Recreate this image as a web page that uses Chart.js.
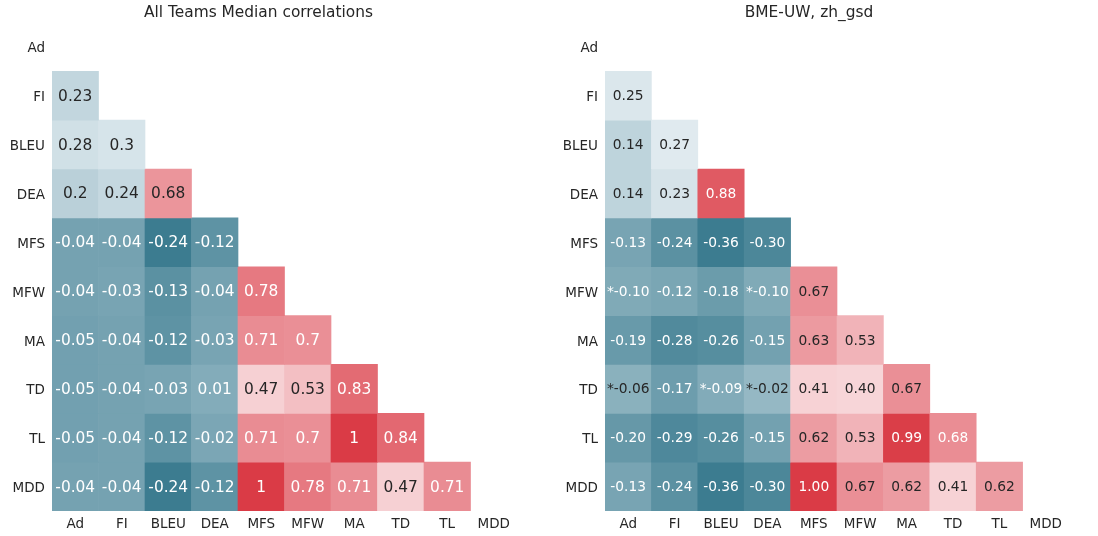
<!DOCTYPE html>
<html>
<head>
<meta charset="utf-8">
<script src="https://cdn.jsdelivr.net/npm/chart.js@4/dist/chart.umd.min.js"></script>
<style>
  body { margin: 0; background: #fff; }
  .box { position: absolute; top: 0; width: 549px; height: 536px; }
</style>
</head>
<body>
<div class="box" style="left:0"><canvas id="left"></canvas></div>
<div class="box" style="left:549px"><canvas id="right"></canvas></div>
<script>
// metric names, same order on both axes
const metrics = ['Ad', 'FI', 'BLEU', 'DEA', 'MFS', 'MFW', 'MA', 'TD', 'TL', 'MDD'];

// lower triangle, one row per metric (row 0 "Ad" is empty)
const medianRows = [
  [],
  [0.23],
  [0.28, 0.3],
  [0.2, 0.24, 0.68],
  [-0.04, -0.04, -0.24, -0.12],
  [-0.04, -0.03, -0.13, -0.04, 0.78],
  [-0.05, -0.04, -0.12, -0.03, 0.71, 0.7],
  [-0.05, -0.04, -0.03, 0.01, 0.47, 0.53, 0.83],
  [-0.05, -0.04, -0.12, -0.02, 0.71, 0.7, 1, 0.84],
  [-0.04, -0.04, -0.24, -0.12, 1, 0.78, 0.71, 0.47, 0.71]
];

const teamRows = [
  [],
  [0.25],
  [0.14, 0.27],
  [0.14, 0.23, 0.88],
  [-0.13, -0.24, -0.36, -0.30],
  [-0.10, -0.12, -0.18, -0.10, 0.67],
  [-0.19, -0.28, -0.26, -0.15, 0.63, 0.53],
  [-0.06, -0.17, -0.09, -0.02, 0.41, 0.40, 0.67],
  [-0.20, -0.29, -0.26, -0.15, 0.62, 0.53, 0.99, 0.68],
  [-0.13, -0.24, -0.36, -0.30, 1.00, 0.67, 0.62, 0.41, 0.62]
];
// non significant cells get a "*" in front
const teamStars = [[5, 0], [5, 3], [7, 0], [7, 2], [7, 3]];

const FONT = 'DejaVu Sans';
const TXT = '#262626';

// seaborn diverging_palette(220, 10) roughly
const blue = [60, 124, 144], blueLight = [237, 243, 247];
const red = [218, 59, 70], redLight = [251, 233, 235];

function mix(a, b, f) {
  return a.map((v, k) => Math.round(v + (b[k] - v) * f));
}
function cellColor(t) {
  const c = t < 0.5 ? mix(blue, blueLight, t / 0.5) : mix(redLight, red, (t - 0.5) / 0.5);
  return 'rgb(' + c.join(',') + ')';
}

function makeChart(id, title, rows, opts) {
  const all = rows.flat();
  const vmin = Math.min(...all), vmax = Math.max(...all);
  const norm = v => (v - vmin) / (vmax - vmin);

  const datasets = rows.map((row, i) => ({
    data: metrics.map((m, j) => j < row.length ? [i, i + 1] : null),
    backgroundColor: metrics.map((m, j) => j < row.length ? cellColor(norm(row[j])) : 'transparent'),
    borderWidth: 0,
    barPercentage: 1,
    categoryPercentage: 1,
    grouped: false
  }));

  const labels = {
    id: 'cellText',
    afterDatasetsDraw(chart) {
      const ctx = chart.ctx, xs = chart.scales.x, ys = chart.scales.y;
      ctx.save();
      ctx.font = opts.annotSize + 'px "' + FONT + '"';
      ctx.textAlign = 'center';
      ctx.textBaseline = 'middle';
      rows.forEach((row, i) => {
        row.forEach((v, j) => {
          const t = norm(v);
          let s = opts.fmt(v);
          if (opts.stars && opts.stars.some(p => p[0] === i && p[1] === j)) s = '*' + s;
          ctx.fillStyle = (t < 0.21 || t > 0.7578) ? '#ffffff' : TXT;
          ctx.fillText(s, xs.getPixelForValue(j), ys.getPixelForValue(i + 0.5) + 1);
        });
      });
      ctx.restore();
    }
  };

  return new Chart(document.getElementById(id), {
    type: 'bar',
    data: { labels: metrics, datasets: datasets },
    plugins: [labels],
    options: {
      responsive: true,
      maintainAspectRatio: false,
      animation: false,
      layout: { padding: { left: 0, right: opts.padRight, top: 0, bottom: 0 } },
      plugins: {
        legend: { display: false },
        tooltip: { enabled: false },
        title: {
          display: true,
          text: title,
          color: TXT,
          font: { family: FONT, size: 15.4, weight: 'normal' },
          padding: { top: 4, bottom: 0 }
        }
      },
      scales: {
        x: {
          type: 'category',
          grid: { display: false, drawTicks: false },
          border: { display: false },
          ticks: { color: TXT, font: { family: FONT, size: 13.5 }, padding: 5, maxRotation: 0, autoSkip: false },
          afterFit(s) { s.height = 25; }
        },
        y: {
          type: 'linear',
          min: 0,
          max: metrics.length,
          reverse: true,
          grid: { display: false, drawTicks: false },
          border: { display: false },
          afterBuildTicks(s) { s.ticks = metrics.map((m, i) => ({ value: i + 0.5 })); },
          ticks: {
            color: TXT,
            font: { family: FONT, size: 13.5 },
            padding: 7,
            labelOffset: 2,
            callback: v => metrics[Math.floor(v)]
          },
          afterFit(s) { s.width = opts.axisWidth; }
        }
      }
    }
  });
}

makeChart('left', 'All Teams Median correlations', medianRows, {
  fmt: v => String(v),
  annotSize: 15.4,
  axisWidth: 52,
  padRight: 32
});

makeChart('right', 'BME-UW, zh_gsd', teamRows, {
  fmt: v => v.toFixed(2),
  annotSize: 13.8,
  axisWidth: 56,
  padRight: 29,
  stars: teamStars
});
</script>
</body>
</html>
